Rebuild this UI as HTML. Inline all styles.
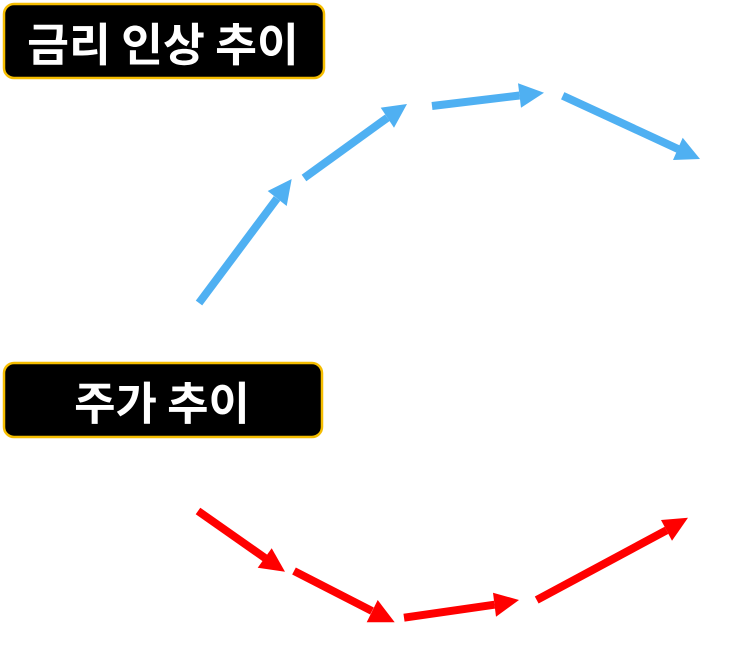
<!DOCTYPE html>
<html><head><meta charset="utf-8"><style>
html,body{margin:0;padding:0;background:#fff;}
body{width:743px;height:648px;overflow:hidden;}
svg{display:block;}
text{font-family:"Liberation Sans","Noto Sans CJK KR",sans-serif;font-weight:700;fill:#fff;}
</style></head><body>
<svg width="743" height="648" viewBox="0 0 743 648" xmlns="http://www.w3.org/2000/svg">
<rect x="4" y="4" width="320" height="74" rx="10" ry="10" fill="#000" stroke="#f5bd00" stroke-width="2.5"/>
<text x="163" y="42" font-size="45.5" text-anchor="middle" dominant-baseline="central" style="font-family:'Noto Sans CJK KR',sans-serif">금리 인상 추이</text>
<rect x="4" y="363" width="318" height="74" rx="10" ry="10" fill="#000" stroke="#f5bd00" stroke-width="2.5"/>
<text x="162" y="400" font-size="45" text-anchor="middle" dominant-baseline="central" style="font-family:'Noto Sans CJK KR',sans-serif">주가 추이</text>

<g stroke="#4fb0f2" stroke-width="8" fill="none">
<line x1="199" y1="303" x2="277" y2="198.5"/>
<line x1="304" y1="178" x2="387.4" y2="117.7"/>
<line x1="432" y1="106" x2="519.5" y2="95.5"/>
<line x1="562.7" y1="95.7" x2="678" y2="149"/>
</g>
<g fill="#4fb0f2">
<polygon points="291.7,179 267.7,191 286.7,206"/>
<polygon points="407,104 380.7,107.7 394,127.7"/>
<polygon points="544,92.7 518,83.3 521,107.7"/>
<polygon points="700,159 682.7,137.7 673,160"/>
</g>

<g stroke="#ff0000" stroke-width="8" fill="none">
<line x1="198" y1="511" x2="265" y2="558"/>
<line x1="294" y1="571" x2="372" y2="611"/>
<line x1="404" y1="617.7" x2="494.5" y2="604.7"/>
<line x1="536.7" y1="600" x2="666.5" y2="530.3"/>
</g>
<g fill="#ff0000">
<polygon points="285,571.7 271.7,548.3 257.7,567.7"/>
<polygon points="394.7,622.3 377.7,600 366.7,622.3"/>
<polygon points="519,600 493,592.7 496,616.7"/>
<polygon points="688,517.7 661,520 672,540.7"/>
</g>
</svg>
</body></html>
